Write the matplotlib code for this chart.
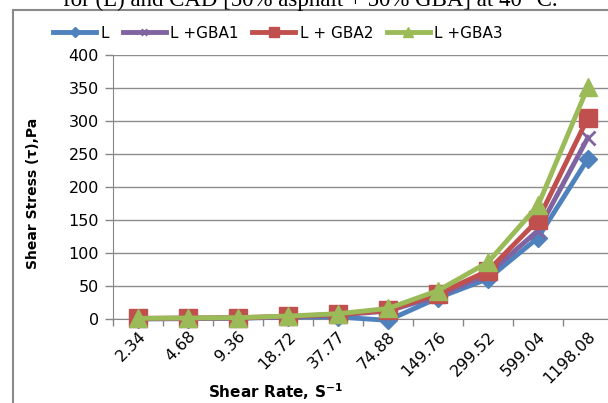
import numpy as np
import matplotlib.pyplot as plt
from matplotlib.patches import Rectangle

# data
rates = ["2.34", "4.68", "9.36", "18.72", "37.77", "74.88",
         "149.76", "299.52", "599.04", "1198.08"]
L = [0, 0.5, 1, 3, 3, -2, 32, 61, 123, 243]
GBA1 = [0.5, 1, 1.5, 3.5, 6, 12, 35, 68, 134, 275]
GBA2 = [1, 1.5, 2, 4, 7, 13, 38, 73, 150, 305]
GBA3 = [1, 1.5, 2, 4.5, 8, 16, 43, 86, 172, 352]

names = ["L", "L +GBA1", "L + GBA2", "L +GBA3"]
colors = ["#4F81BD", "#8064A2", "#C0504D", "#9BBB59"]
markers = ["D", "x", "s", "^"]
msizes = [9.5, 10, 13.5, 13]

plt.rcParams['font.family'] = ['DejaVu Sans']

W, H = 608, 403
fig = plt.figure(figsize=(W / 100, H / 100), dpi=100)

# chart border (cut off at right and bottom like the screenshot)
fig.patches.append(Rectangle((13 / W, -0.1), 1.2, 1 - 10 / H + 0.1,
                             transform=fig.transFigure, fill=False,
                             edgecolor="#8a8a8a", lw=1.5))

# caption from the page, mostly cut off
fig.text(310 / W, 1 - 6 / H, "for (L) and CAD [50% asphalt + 50% GBA] at 40 °C.",
         family="Liberation Serif", fontsize=16.5, ha="center", va="baseline")

ax = fig.add_axes([113 / W, 1 - 319 / H, 500 / W, 264 / H])
x = np.arange(len(rates))
series = [L, GBA1, GBA2, GBA3]
for ys, nm, c, m, ms in zip(series, names, colors, markers, msizes):
    ax.plot(x, ys, color=c, lw=3.5, marker=m, markersize=ms,
            markeredgewidth=2 if m == "x" else 1, label=nm, clip_on=False,
            zorder=3)

ax.set_xlim(-0.5, len(rates) - 0.5)
ax.set_ylim(0, 400)
ax.set_yticks(np.arange(0, 401, 50))
ax.set_xticks(x)
ax.set_xticklabels(rates, rotation=45, ha="right", rotation_mode="anchor",
                   fontsize=11.5)
ax.set_xticks(np.arange(-0.5, len(rates), 1), minor=True)
ax.tick_params(axis="x", which="major", length=0, pad=7)
ax.tick_params(axis="x", which="minor", length=5, color="#868686", width=1)
ax.tick_params(axis="y", length=6, color="#868686", width=1, labelsize=11.5,
               pad=4)
ax.yaxis.grid(True, color="#8c8c8c", lw=1)
ax.set_axisbelow(True)
for s in ["top", "right"]:
    ax.spines[s].set_visible(False)
ax.spines["left"].set_color("#868686")
ax.spines["bottom"].set_color("#868686")

fig.text(275 / W, 1 - 392 / H, "Shear Rate, S$^{\\mathbf{-1}}$", fontsize=11,
         fontweight="bold", ha="center", va="center")
fig.text(33 / W, 1 - 193 / H, "Shear Stress (τ),Pa", fontsize=10,
         fontweight="bold", ha="center", va="center", rotation=90)

fig.legend(loc="center", bbox_to_anchor=(278 / W, 1 - 33 / H), ncol=4,
           frameon=False, fontsize=11, handlelength=2.8, columnspacing=0.9,
           handletextpad=0.3, markerscale=0.5)

fig.savefig("out.png", dpi=100)
